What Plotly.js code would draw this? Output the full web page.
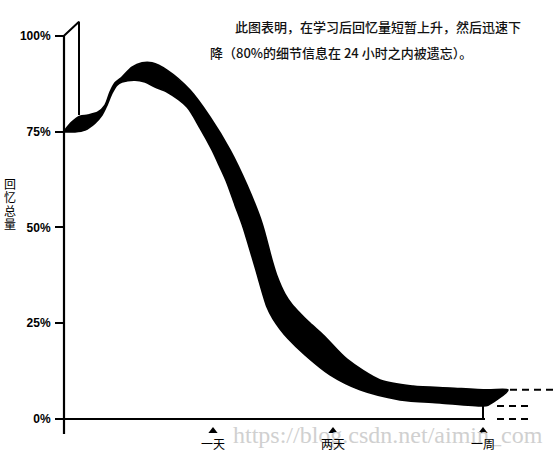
<!DOCTYPE html>
<html>
<head>
<meta charset="utf-8">
<script src="https://cdn.plot.ly/plotly-3.0.1.min.js"></script>
<style>html,body{margin:0;padding:0;background:#fff;}#chart{width:555px;height:454px;}</style>
</head>
<body>
<div id="chart"></div>
<script>
// Retention band: upper and lower edges (x in arbitrary time units, y in % recalled)
const upperX = [0, 8, 16, 24, 34, 41, 46, 51, 58, 68, 78, 88, 103, 126, 146, 166, 183, 198, 208, 213, 221, 228, 236, 246, 260, 283, 316, 349, 386, 423, 444];
const upperY = [75.1, 77.5, 79.0, 79.3, 80.1, 81.9, 85.3, 87.7, 89.2, 91.8, 92.9, 92.9, 91.0, 85.8, 78.8, 70.2, 61.0, 51.1, 41.5, 37.3, 32.6, 29.9, 27.6, 25.0, 21.7, 15.6, 10.2, 8.6, 8.1, 7.6, 7.6];
const lowerX = [0, 11, 21, 31, 38, 43, 48, 53, 58, 71, 81, 91, 103, 123, 136, 148, 156, 163, 171, 179, 191, 203, 209, 216, 224, 241, 266, 296, 336, 376, 419, 424];
const lowerY = [74.9, 74.9, 75.4, 77.2, 79.3, 81.9, 85.0, 87.1, 87.9, 88.4, 87.9, 86.6, 85.3, 81.4, 75.9, 70.2, 65.7, 61.6, 55.8, 50.1, 39.7, 29.2, 26.1, 23.5, 21.0, 16.7, 11.5, 7.6, 5.0, 4.2, 3.4, 3.6];

// Immediate-recall box above the start of the curve
const boxX = [0, 15, 15];
const boxY = [100, 103.65, 79.3];

// Axis ticks
const yTickVals = [0, 25, 50, 75, 100];
const yTickText = ['0%', '25%', '50%', '75%', '100%'];
const xTickVals = [149, 269, 419];
const xTickText = ['一天', '两天', '一周'];

// Continuation dashes beyond one week (levels in %)
const dashLevels = [7.6, 3.4, 0];
const dashStart = [446, 433, 433];
const dashEnd = [489, 469, 469];

const noteLine1 = '此图表明，在学习后回忆量短暂上升，然后迅速下';
const noteLine2 = '降（80%的细节信息在 24 小时之内被遗忘）。';
const yTitle = '回忆总量';
const watermark = 'https://blog.csdn.net/aimin_com';

const lastTick = xTickVals[xTickVals.length - 1];
const bandX = upperX.concat(lowerX.slice().reverse());
const bandY = upperY.concat(lowerY.slice().reverse());

const traces = [];
traces.push({x: bandX, y: bandY, mode: 'lines', fill: 'toself', fillcolor: '#000',
  line: {color: '#000', width: 1.6, shape: 'spline', smoothing: 0.8}, hoverinfo: 'skip'});
traces.push({x: boxX, y: boxY, mode: 'lines', line: {color: '#000', width: 2}, hoverinfo: 'skip'});
// y axis line
traces.push({x: [0, 0], y: [100, -3.9], mode: 'lines', line: {color: '#000', width: 2.2}, hoverinfo: 'skip'});
// x axis line
traces.push({x: [-9, lastTick + 2], y: [0, 0], mode: 'lines', line: {color: '#000', width: 2.2}, hoverinfo: 'skip'});
// stem at one week
traces.push({x: [lastTick, lastTick], y: [0, lowerY[lowerY.length - 2]], mode: 'lines', line: {color: '#000', width: 2}, hoverinfo: 'skip'});
// dashes
for (let i = 0; i < dashLevels.length; i++) {
  traces.push({x: [dashStart[i], dashEnd[i]], y: [dashLevels[i], dashLevels[i]], mode: 'lines',
    line: {color: '#000', width: 2, dash: '7px,5px'}, hoverinfo: 'skip'});
}
// triangles for x ticks
traces.push({x: xTickVals, y: xTickVals.map(() => -3.1), mode: 'markers',
  marker: {symbol: 'triangle-up', size: 8, color: '#000'}, hoverinfo: 'skip'});

const annotations = [];
annotations.push({x: 324, y: -4.3, xref: 'x', yref: 'y', text: watermark, showarrow: false,
  font: {family: 'Liberation Serif', size: 24, color: '#d0d0d0'}, xanchor: 'center', yanchor: 'middle'});
for (let i = 0; i < xTickVals.length; i++) {
  annotations.push({x: xTickVals[i], y: -6.3, xref: 'x', yref: 'y', text: xTickText[i], showarrow: false,
    font: {family: 'Noto Sans CJK SC', size: 12, color: '#000'}, xanchor: 'center', yanchor: 'middle'});
}
annotations.push({x: 169, y: 102.3, xref: 'x', yref: 'y', text: noteLine1, showarrow: false,
  font: {family: 'Noto Sans CJK SC', size: 13, color: '#111', weight: 500}, xanchor: 'left', yanchor: 'middle'});
annotations.push({x: 144, y: 95.7, xref: 'x', yref: 'y', text: noteLine2, showarrow: false,
  font: {family: 'Noto Sans CJK SC', size: 13, color: '#111', weight: 500}, xanchor: 'left', yanchor: 'middle'});
// vertical y-axis title, one character per line
yTitle.split('').forEach((ch, i) => {
  annotations.push({x: -54, y: 61.5 - i * 3.5, xref: 'x', yref: 'y', text: ch, showarrow: false,
    font: {family: 'Noto Sans CJK SC', size: 12, color: '#000'}, xanchor: 'center', yanchor: 'middle'});
});

const layout = {
  width: 555, height: 454,
  margin: {l: 0, r: 0, t: 0, b: 0},
  paper_bgcolor: '#fff', plot_bgcolor: '#fff',
  showlegend: false,
  xaxis: {range: [-64, 491], visible: false, fixedrange: true},
  yaxis: {range: [-9.13, 109.31], anchor: 'free', position: 64 / 555, side: 'left',
    showline: false, showgrid: false, zeroline: false,
    tickvals: yTickVals, ticktext: yTickText, ticks: 'outside', ticklen: 9, tickwidth: 2, tickcolor: '#000',
    ticklabelstandoff: 2,
    tickfont: {family: 'Liberation Sans', size: 12, color: '#000', weight: 'bold'}, fixedrange: true},
  annotations: annotations
};

Plotly.newPlot('chart', traces, layout, {displayModeBar: false, staticPlot: true});
</script>
</body>
</html>
